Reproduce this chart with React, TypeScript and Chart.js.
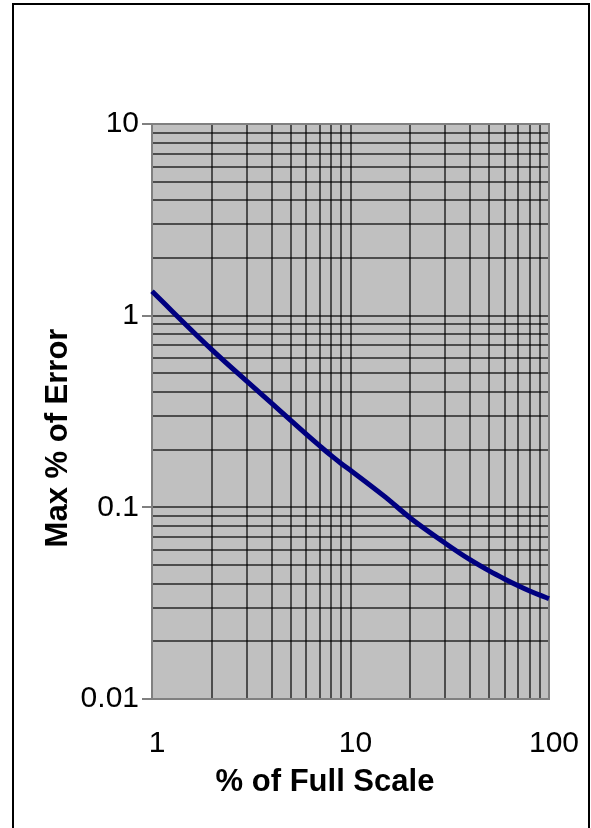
import React, { useEffect, useRef } from "react";
import { Chart, registerables } from "chart.js";

Chart.register(...registerables);

// Data
const fullScalePercent = [1, 2, 3, 4, 5, 6, 7, 8, 9, 10, 15, 20, 30, 40, 50, 60, 70, 80, 90, 100];
const maxErrorPercent = [
  1.34, 0.665, 0.455, 0.35, 0.284, 0.24, 0.209, 0.186, 0.169, 0.156,
  0.113, 0.088, 0.065, 0.0533, 0.0466, 0.0422, 0.039, 0.0366, 0.0348, 0.0334,
];

// Axis decades and labels
const xDecades = [1, 10, 100];
const xTickLabels = ["1", "10", "100"];
const yDecades = [0.01, 0.1, 1, 10];
const yTickLabels = ["0.01", "0.1", "1", "10"];
const minorMultipliers = [1, 2, 3, 4, 5, 6, 7, 8, 9];

const xTitle = "% of Full Scale";
const yTitle = "Max % of Error";

function gridValues(decades: number[]): number[] {
  const out: number[] = [];
  for (let i = 0; i < decades.length - 1; i++) {
    for (const m of minorMultipliers) out.push(+(decades[i] * m).toPrecision(6));
  }
  out.push(decades[decades.length - 1]);
  return out;
}

function labelFor(value: number, decades: number[], labels: string[]): string {
  for (let i = 0; i < decades.length; i++) {
    if (Math.abs(value - decades[i]) / decades[i] < 1e-6) return labels[i];
  }
  return "";
}

function isDecade(v: number): boolean {
  const l = Math.log10(v);
  return Math.abs(l - Math.round(l)) < 1e-6;
}

const FONT = "'Liberation Sans', Arial, sans-serif";

export default function App() {
  const canvasRef = useRef<HTMLCanvasElement | null>(null);

  useEffect(() => {
    const canvas = canvasRef.current;
    if (!canvas) return;

    const framePlugin = {
      id: "plotFrame",
      beforeDraw(chart: any) {
        const { ctx, chartArea: a } = chart;
        ctx.save();
        ctx.fillStyle = "#c0c0c0";
        ctx.fillRect(a.left, a.top, a.right - a.left, a.bottom - a.top);
        ctx.restore();
      },
      beforeDatasetsDraw(chart: any) {
        const { ctx, chartArea: a } = chart;
        ctx.save();
        ctx.strokeStyle = "#808080";
        ctx.lineWidth = 2;
        ctx.strokeRect(a.left, a.top, a.right - a.left, a.bottom - a.top);
        ctx.restore();
      },
      afterDraw(chart: any) {
        const { ctx } = chart;
        ctx.save();
        ctx.fillStyle = "#000000";
        ctx.font = `bold 31px ${FONT}`;
        ctx.textAlign = "center";
        ctx.textBaseline = "middle";
        ctx.fillText(xTitle, 325, 782);
        ctx.translate(58, 438);
        ctx.rotate(-Math.PI / 2);
        ctx.fillText(yTitle, 0, 0);
        ctx.restore();
      },
    };

    const chart = new Chart(canvas, {
      type: "line",
      data: {
        datasets: [
          {
            data: fullScalePercent.map((x, i) => ({ x, y: maxErrorPercent[i] })),
            borderColor: "#000080",
            borderWidth: 5,
            pointRadius: 0,
            cubicInterpolationMode: "monotone",
            fill: false,
            clip: 4,
          },
        ],
      },
      options: {
        animation: false,
        responsive: false,
        maintainAspectRatio: false,
        layout: { padding: { top: 124, right: 42, left: 0, bottom: 0 } },
        plugins: { legend: { display: false }, tooltip: { enabled: false }, title: { display: false } },
        scales: {
          x: {
            type: "logarithmic",
            min: 1,
            max: 100,
            afterBuildTicks: (scale: any) => {
              scale.ticks = gridValues(xDecades).map((v) => ({ value: v }));
            },
            afterFit: (scale: any) => {
              scale.height = 129;
              scale.paddingLeft = 0;
              scale.paddingRight = 0;
            },
            border: { display: false },
            grid: {
              color: "rgba(0,0,0,0.6)",
              lineWidth: 2,
              drawTicks: false,
            },
            ticks: {
              autoSkip: false,
              maxRotation: 0,
              minRotation: 0,
              padding: 27,
              labelOffset: 5,
              color: "#000000",
              font: { family: FONT, size: 30 },
              callback: (value: any) => labelFor(Number(value), xDecades, xTickLabels),
            },
          },
          y: {
            type: "logarithmic",
            min: 0.01,
            max: 10,
            afterBuildTicks: (scale: any) => {
              scale.ticks = gridValues(yDecades).map((v) => ({ value: v }));
            },
            afterFit: (scale: any) => {
              scale.width = 152;
              scale.paddingTop = 0;
              scale.paddingBottom = 0;
            },
            border: { display: false },
            grid: {
              color: "rgba(0,0,0,0.6)",
              lineWidth: 2,
              drawTicks: true,
              tickLength: 10,
              tickColor: (ctx: any) =>
                ctx.tick && isDecade(ctx.tick.value) ? "#808080" : "rgba(0,0,0,0)",
            },
            ticks: {
              autoSkip: false,
              padding: 3,
              color: "#000000",
              font: { family: FONT, size: 30 },
              callback: (value: any) => labelFor(Number(value), yDecades, yTickLabels),
            },
          },
        },
      },
      plugins: [framePlugin],
    });

    return () => chart.destroy();
  }, []);

  return (
    <>
      <canvas
        ref={canvasRef}
        width={591}
        height={828}
        style={{ position: "fixed", left: 0, top: 0, width: 591, height: 828 }}
      />
      <div
        style={{
          position: "fixed",
          left: 12,
          top: 3,
          width: 578,
          height: 860,
          border: "2px solid #000",
          boxSizing: "border-box",
          pointerEvents: "none",
        }}
      />
    </>
  );
}
